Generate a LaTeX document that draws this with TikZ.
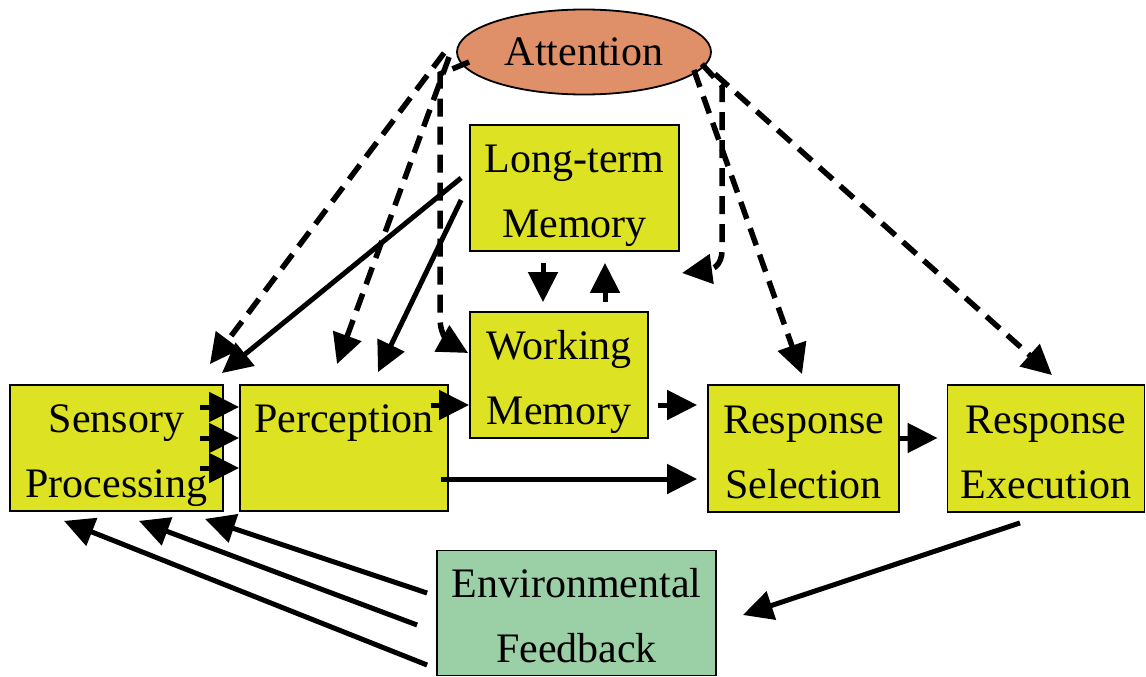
\documentclass[tikz,border=0pt]{standalone}
\usepackage{fontspec}
\setmainfont{Liberation Serif}
\usetikzlibrary{arrows.meta,shapes.geometric}
\definecolor{boxyellow}{RGB}{221,226,34}
\definecolor{attorange}{RGB}{224,144,104}
\definecolor{envgreen}{RGB}{155,207,165}
\newcommand\topst{\rule{0pt}{44pt}}
\newcommand\botst{\rule[-10pt]{0pt}{10pt}}
\tikzset{
  stagebox/.style={draw=black, line width=1.8pt, fill=boxyellow, inner sep=0pt, align=center,
    font=\fontsize{42}{65}\selectfont},
  arr/.style={line width=5pt, -{Triangle[length=30pt,width=29pt]}},
  darr/.style={arr, line width=5.5pt, dash pattern=on 18pt off 10pt},
}
\begin{document}
\begin{tikzpicture}[x=1pt,y=-1pt]
\useasboundingbox (0,0) rectangle (1146,677);
% nodes
\node[draw=black, line width=1.8pt, fill=attorange, ellipse, minimum width=254pt, minimum height=85pt, inner sep=0pt,
      font=\fontsize{42}{64}\selectfont] (att) at (584,52) {Attention};
\node[stagebox, minimum width=213pt, minimum height=126pt] (sp) at (116.5,448) {\topst Sensory\\Processing\botst};
\node[stagebox, minimum width=208pt, minimum height=126pt] (pp) at (344,448) {\topst Perception\\\mbox{}\botst};
\node[stagebox, minimum width=209pt, minimum height=126pt] (ltm) at (574.5,188) {\topst Long-term\\Memory\botst};
\node[stagebox, minimum width=178pt, minimum height=126pt] (wm) at (559,375) {\topst Working\\Memory\botst};
\node[stagebox, minimum width=191pt, minimum height=127pt] (rs) at (803.5,448.5) {\topst Response\\Selection\botst};
\node[stagebox, minimum width=197pt, minimum height=127pt] (re) at (1046,448.5) {\topst Response\\Execution\botst};
\node[stagebox, fill=envgreen, minimum width=279pt, minimum height=125pt] (ef) at (576.5,613) {\topst Environmental\\Feedback\botst};
% helper coordinates
\coordinate (l3a) at (440,74);
\coordinate (l3b) at (440,318);
\coordinate (r2a) at (722,86);
\coordinate (r2b) at (722,250);
\coordinate (fbk) at (682,273);
% solid arrows
\draw[arr] ([xshift=-24pt,yshift=41pt]sp.east) -- ([yshift=41pt]pp.west);
\draw[arr] ([xshift=-24pt,yshift=10pt]sp.east) -- ([yshift=10pt]pp.west);
\draw[arr] ([xshift=-24pt,yshift=-20pt]sp.east) -- ([yshift=-20pt]pp.west);
\draw[arr] ([xshift=-18pt,yshift=43pt]pp.east) -- ([yshift=-30pt]wm.west);
\draw[arr] ([xshift=9pt,yshift=-30pt]wm.east) -- ([xshift=-10pt,yshift=43.5pt]rs.west);
\draw[arr] ([xshift=-8pt,yshift=-31pt]pp.east) -- ([xshift=-10pt,yshift=-30.5pt]rs.west);
\draw[arr] ([yshift=10.5pt]rs.east) -- ([xshift=-9pt,yshift=10.5pt]re.west);
\draw[arr] ([xshift=-31.5pt,yshift=-11pt]ltm.south) -- ([xshift=-16pt,yshift=9pt]wm.north);
\draw[arr] ([xshift=46pt,yshift=9pt]wm.north) -- ([xshift=30.5pt,yshift=-11pt]ltm.south);
\draw[arr] ([xshift=-8pt,yshift=10pt]ltm.west) -- ([xshift=-2pt,yshift=11pt]sp.north east);
\draw[arr] ([xshift=-8pt,yshift=-12pt]ltm.west) -- ([xshift=34pt,yshift=12pt]pp.north);
% feedback arrows
\draw[arr] ([xshift=-9pt,yshift=20pt]ef.west) -- ([xshift=88.5pt,yshift=-7pt]sp.south);
\draw[arr] ([xshift=-19pt,yshift=-12pt]ef.west) -- ([xshift=22.5pt,yshift=-9pt]sp.south);
\draw[arr] ([xshift=-9pt,yshift=-52pt]ef.west) -- ([xshift=-52.5pt,yshift=-9pt]sp.south);
\draw[arr] ([xshift=-26pt,yshift=-10pt]re.south) -- ([xshift=26pt,yshift=-2pt]ef.east);
% dashed attention arrows
\draw[darr] ([xshift=-12pt,yshift=-1pt]att.west) -- ([xshift=-14pt,yshift=20pt]sp.north east);
\draw[darr] ([xshift=-7pt,yshift=-5pt]att.west) -- ([xshift=-7pt,yshift=20pt]pp.north);
\draw[darr] ([xshift=13pt,yshift=-10pt]att.west) -- (l3a) -- (l3b) .. controls (440,338) and (452,344) .. ([xshift=-1pt,yshift=22pt]wm.west);
\draw[darr] ([xshift=-18pt,yshift=-18pt]att.east) -- ([xshift=-1.5pt,yshift=10pt]rs.north);
\draw[darr] ([xshift=-10pt,yshift=-12pt]att.east) -- (r2a) -- (r2b) .. controls (722,266) and (712,269) .. (fbk);
\draw[darr] ([xshift=3pt,yshift=-22pt]att.east) -- ([xshift=6pt,yshift=9pt]re.north);
\end{tikzpicture}
\end{document}
